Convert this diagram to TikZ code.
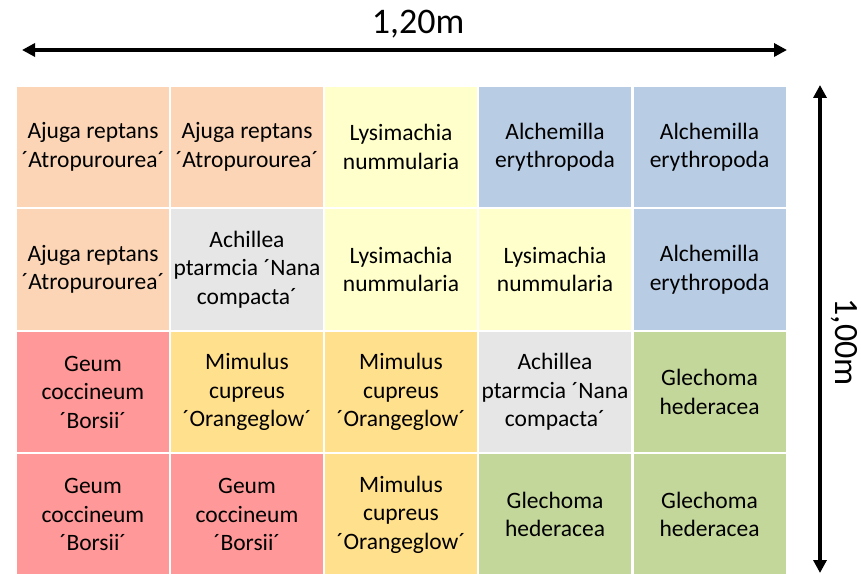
\documentclass[tikz,border=0pt]{standalone}
\usepackage{fontspec}
\setmainfont{Carlito}
\usetikzlibrary{arrows.meta}
\definecolor{bedpeach}{HTML}{FBD5B5}
\definecolor{bedlemon}{HTML}{FFFFCC}
\definecolor{bedblue}{HTML}{B8CCE4}
\definecolor{bedgray}{HTML}{E6E6E6}
\definecolor{bedred}{HTML}{FF9999}
\definecolor{bedgold}{HTML}{FFE08C}
\definecolor{bedgreen}{HTML}{C4D79B}

\begin{document}
\begin{tikzpicture}[x=1pt, y=1pt, font=\fontsize{23.5}{28.5}\selectfont,
    cell/.style={minimum width=152pt, minimum height=120.5pt, inner sep=0pt, align=center},
    dim/.style={line width=3.5pt, {Triangle[length=13pt, width=13pt]}-{Triangle[length=13pt, width=13pt]}}]
    \useasboundingbox (0,0) rectangle (861,573);
    % row 1
    \node[cell, fill=bedpeach] (c11) at (93,426) {Ajuga reptans\\´Atropurourea´};
    \node[cell, fill=bedpeach] (c12) at (247,426) {Ajuga reptans\\´Atropurourea´};
    \node[cell, fill=bedlemon] (c13) at (401,426) {Lysimachia\\nummularia};
    \node[cell, fill=bedblue] (c14) at (555,426) {Alchemilla\\erythropoda};
    \node[cell, fill=bedblue] (c15) at (709.5,426) {Alchemilla\\erythropoda};
    % row 2
    \node[cell, fill=bedpeach] (c21) at (93,303.5) {Ajuga reptans\\´Atropurourea´};
    \node[cell, fill=bedgray] (c22) at (247,303.5) {Achillea\\ptarmcia ´Nana\\compacta´};
    \node[cell, fill=bedlemon] (c23) at (401,303.5) {Lysimachia\\nummularia};
    \node[cell, fill=bedlemon] (c24) at (555,303.5) {Lysimachia\\nummularia};
    \node[cell, fill=bedblue] (c25) at (709.5,303.5) {Alchemilla\\erythropoda};
    % row 3
    \node[cell, fill=bedred] (c31) at (93,181) {Geum\\coccineum\\´Borsii´};
    \node[cell, fill=bedgold] (c32) at (247,181) {Mimulus\\cupreus\\´Orangeglow´};
    \node[cell, fill=bedgold] (c33) at (401,181) {Mimulus\\cupreus\\´Orangeglow´};
    \node[cell, fill=bedgray] (c34) at (555,181) {Achillea\\ptarmcia ´Nana\\compacta´};
    \node[cell, fill=bedgreen] (c35) at (709.5,181) {Glechoma\\hederacea};
    % row 4
    \node[cell, fill=bedred] (c41) at (93,58.5) {Geum\\coccineum\\´Borsii´};
    \node[cell, fill=bedred] (c42) at (247,58.5) {Geum\\coccineum\\´Borsii´};
    \node[cell, fill=bedgold] (c43) at (401,58.5) {Mimulus\\cupreus\\´Orangeglow´};
    \node[cell, fill=bedgreen] (c44) at (555,58.5) {Glechoma\\hederacea};
    \node[cell, fill=bedgreen] (c45) at (709.5,58.5) {Glechoma\\hederacea};
    % dimensions
    \coordinate (wl) at (22,523);
    \coordinate (wr) at (787,523);
    \coordinate (ht) at (820,488);
    \coordinate (hb) at (820,0);
    \draw[dim] (wl) -- (wr);
    \draw[dim] (ht) -- (hb);
    \node[font=\fontsize{36}{40}\selectfont] (wlab) at (418,549) {1,20m};
    \node[font=\fontsize{34}{40}\selectfont, rotate=-90, inner sep=0pt] (hlab) at (844,231) {1,00m};
\end{tikzpicture}
\end{document}
